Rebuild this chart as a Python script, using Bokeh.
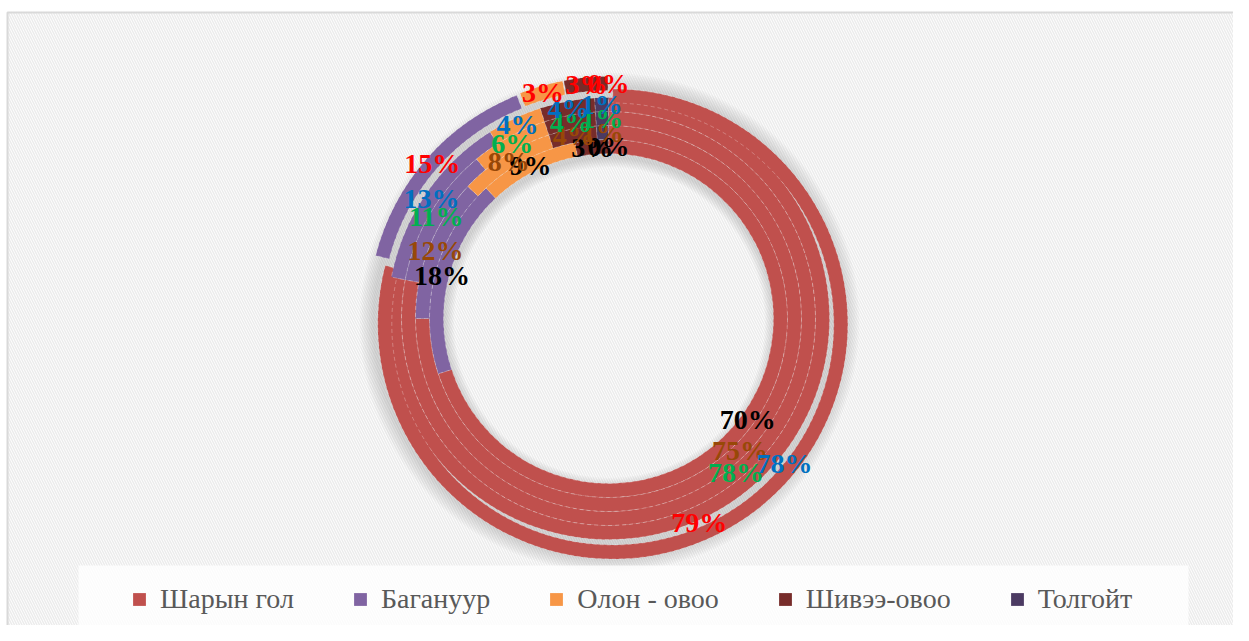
import numpy as np
from bokeh.plotting import figure
from bokeh.models import Range1d, ColumnDataSource, Legend, LegendItem
from bokeh.core.properties import value
from bokeh.embed import file_html
from bokeh.resources import INLINE

# ---------------- data ----------------
categories = ["Шарын гол", "Багануур", "Олон - овоо", "Шивээ-овоо", "Толгойт"]
cat_colors = ["#C0504D", "#8064A2", "#F79646", "#772C2A", "#4B3A62"]

# rings, innermost first (percent)
ring1 = [70, 18, 9, 3, 0]
ring2 = [75, 12, 8, 4, 1]
ring3 = [78, 11, 6, 4, 1]
ring4 = [78, 13, 4, 4, 1]
ring5 = [79, 15, 3, 3, 0]
rings = [ring1, ring2, ring3, ring4, ring5]
label_colors = ["#000000", "#984807", "#00B050", "#0070C0", "#FF0000"]

# ---------------- layout ----------------
W, H = 1233, 625
cx, cy = 608, 307
hole = 165
thick = 14
explode = 7
# labels moved by hand in the original: (ring, category) -> (deg clockwise from top, radius)
label_moves = {(3, 0): (129.5, 228), (4, 0): (156, 223)}

p = figure(width=W, height=H, x_range=Range1d(0, W), y_range=Range1d(0, H),
           output_backend="svg", toolbar_location=None, min_border=0,
           x_axis_type=None, y_axis_type=None)
p.grid.visible = False
p.outline_line_color = None
p.background_fill_color = "white"
p.border_fill_color = "white"

# chart area with diagonal texture
p.quad(left=[7], right=[W + 5], bottom=[-5], top=[613], fill_color="white",
       hatch_pattern="\\", hatch_color="#ececec", hatch_scale=5, hatch_weight=1.5,
       line_color="#d9d9d9", line_width=2)

# soft shadow
outer_r = hole + thick * len(rings)
for k in range(8):
    p.annulus(x=[cx + 1], y=[cy - 4], inner_radius=hole - 1 - k * 1.2,
              outer_radius=outer_r + 2 + k * 1.8, fill_color="#7f7f7f",
              fill_alpha=0.04, line_color=None)

# rings
for c, cat in enumerate(categories):
    xs, ys, ri, ro, sa, ea = [], [], [], [], [], []
    for i, ring in enumerate(rings):
        if ring[c] <= 0:
            continue
        tot = float(sum(ring))
        a = sum(ring[:c]) / tot
        b = sum(ring[:c + 1]) / tot
        mid = np.pi / 2 - 2 * np.pi * (a + b) / 2
        d = explode if i == len(rings) - 1 else 0
        xs.append(cx + d * np.cos(mid))
        ys.append(cy + d * np.sin(mid))
        ri.append(hole + i * thick)
        ro.append(hole + (i + 1) * thick)
        sa.append(np.pi / 2 - 2 * np.pi * b)
        ea.append(np.pi / 2 - 2 * np.pi * a)
    src = ColumnDataSource(dict(x=xs, y=ys, ri=ri, ro=ro, sa=sa, ea=ea))
    p.annular_wedge(x="x", y="y", inner_radius="ri", outer_radius="ro",
                    start_angle="sa", end_angle="ea", source=src,
                    fill_color=cat_colors[c], line_color="white", line_alpha=0.35,
                    line_width=0.8, line_dash="4 3")

# labels
lx, ly, lt, lc = [], [], [], []
for i, ring in enumerate(rings):
    tot = float(sum(ring))
    for c in range(len(categories)):
        a = sum(ring[:c]) / tot
        b = sum(ring[:c + 1]) / tot
        if (i, c) in label_moves:
            deg, r = label_moves[(i, c)]
            ang = np.pi / 2 - np.radians(deg)
        else:
            ang = np.pi / 2 - 2 * np.pi * (a + b) / 2
            r = hole + (i + 0.5) * thick + (explode if i == len(rings) - 1 else 0)
        lx.append(cx + r * np.cos(ang))
        ly.append(cy + r * np.sin(ang))
        lt.append(f"{ring[c]}%")
        lc.append(label_colors[i])
lsrc = ColumnDataSource(dict(x=lx, y=ly, t=lt, c=lc))
p.text(x="x", y="y", text="t", text_color="c", source=lsrc,
       text_font=value("Liberation Serif"), text_font_style="bold",
       text_font_size="28px", text_align="center", text_baseline="middle")

# legend box
p.quad(left=[78], right=[1188], bottom=[0], top=[60], fill_color="white",
       fill_alpha=0.8, line_color=None)

items = []
for c, cat in enumerate(categories):
    r = p.rect(x=[-500], y=[-500], width=1, height=1, fill_color=cat_colors[c],
               line_color=None)
    items.append(LegendItem(label=cat, renderers=[r]))
legend = Legend(items=items, orientation="horizontal", location=(131, 10),
                glyph_width=16, glyph_height=16, label_standoff=13, spacing=58,
                padding=0, margin=0, background_fill_alpha=0, border_line_alpha=0,
                label_text_font="Liberation Serif", label_text_font_size="28px",
                label_text_color="#595959", label_height=28)
p.add_layout(legend)

open("out.html", "w").write(file_html(p, INLINE))
